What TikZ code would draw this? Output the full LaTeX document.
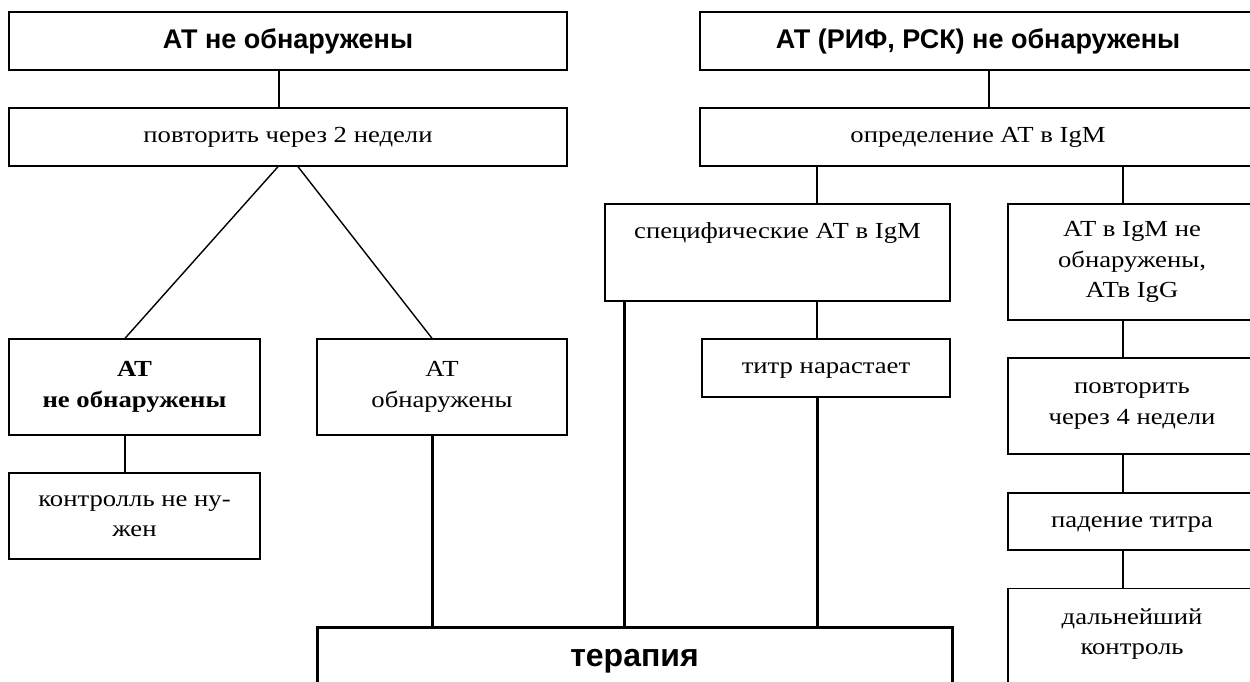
\documentclass[tikz,border=0pt]{standalone}
\usepackage{fontspec}
\setmainfont{Liberation Serif}[FakeStretch=1.16]
\newfontfamily\headfont{Liberation Sans}
\usepackage{tikz}
\usetikzlibrary{positioning, calc}

\begin{document}
\begin{tikzpicture}[x=1pt, y=-1pt,
    box/.style={draw, line width=1.4pt, inner sep=0pt, align=center,
        font=\fontsize{23}{30.5}\selectfont},
    oneline/.style={box, text height=16pt, text depth=5pt},
    head/.style={box, font=\headfont\bfseries\fontsize{27}{30}\selectfont},
    link/.style={line width=1.4pt},
    heavy/.style={line width=3pt}]

\useasboundingbox (0,0) rectangle (1250,681);
\clip (0,0) rectangle (1250,681);

% ── LEFT: АТ не обнаружены ────────────────────────────────────────
\node[head, minimum width=558pt, minimum height=58pt] (top1) at (288,41) {АТ не обнаружены};
\node[oneline, minimum width=558pt, minimum height=58pt] (rep2) at (288,137) {повторить через 2 недели};

\node[box, minimum width=251pt, minimum height=96pt] (nf) at (134.5,387)
    {\textbf{АТ}\\\textbf{не обнаружены}};
\node[box, minimum width=250pt, minimum height=96pt] (found) at (442,387) {АТ\\обнаружены};
\node[box, minimum width=251pt, minimum height=86pt] (ctrl) at (134.5,516) {контролль не ну-\\жен};

% ── RIGHT: АТ (РИФ, РСК) не обнаружены ────────────────────────────
\node[head, minimum width=556pt, minimum height=58pt] (top2) at (978,41) {АТ (РИФ, РСК) не обнаружены};
\node[oneline, minimum width=556pt, minimum height=58pt] (igm) at (978,137) {определение АТ в IgM};

% specific IgM branch
\node[box, minimum width=345pt, minimum height=97pt] (spec) at (777.5,252.5) {};
\node[oneline, draw=none] (spectxt) at (777.5,233) {специфические АТ в IgM};
\node[oneline, minimum width=248pt, minimum height=58pt] (titr) at (826,368) {титр нарастает};

% IgG branch (runs off the right edge)
\node[box, minimum width=248pt, minimum height=116pt] (igg) at (1132,262)
    {АТ в IgM не\\обнаружены,\\АТв IgG};
\node[box, minimum width=248pt, minimum height=96pt] (rep4) at (1132,406) {повторить\\через 4 недели};
\node[oneline, minimum width=248pt, minimum height=57pt] (fall) at (1132,521.5) {падение титра};
\node[box, minimum width=248pt, minimum height=150pt, anchor=north] (further) at (1132,588) {};
\node[box, draw=none] (furthertxt) at (1132,634) {дальнейший\\контроль};

% ── Therapy ──────────────────────────────────────────────────────
\node[head, line width=3pt, minimum width=635pt, minimum height=68pt,
    font=\headfont\bfseries\fontsize{32}{36}\selectfont] (ther) at (634.5,661) {терапия};

% ── Connectors ───────────────────────────────────────────────────
\draw[link] ([xshift=-9pt]top1.south) -- ([xshift=-9pt]rep2.north);
\draw[link] ([xshift=-10pt]rep2.south) -- ([xshift=-9.5pt]nf.north);
\draw[link] ([xshift=10pt]rep2.south) -- ([xshift=-10pt]found.north);
\draw[link] ([xshift=-9.5pt]nf.south) -- ([xshift=-9.5pt]ctrl.north);

\draw[link] ([xshift=11pt]top2.south) -- ([xshift=11pt]igm.north);
\draw[link] ([xshift=39.5pt]spec.north) -- ([xshift=39.5pt]spec.north |- igm.south);
\draw[link] ([xshift=-9pt]igg.north) -- ([xshift=-9pt]igg.north |- igm.south);
\draw[link] ([xshift=-9pt]titr.north) -- ([xshift=-9pt]titr.north |- spec.south);
\draw[link] ([xshift=-9pt]igg.south) -- ([xshift=-9pt]rep4.north);
\draw[link] ([xshift=-9pt]rep4.south) -- ([xshift=-9pt]fall.north);
\draw[link] ([xshift=-9pt]fall.south) -- ([xshift=-9pt]further.north);

\draw[heavy] ([xshift=-10pt]found.south) -- ([xshift=-10pt]found.south |- ther.north);
\draw[heavy] ([xshift=-153.5pt]spec.south) -- ([xshift=-153.5pt]spec.south |- ther.north);
\draw[heavy] ([xshift=-9pt]titr.south) -- ([xshift=-9pt]titr.south |- ther.north);

\end{tikzpicture}
\end{document}
